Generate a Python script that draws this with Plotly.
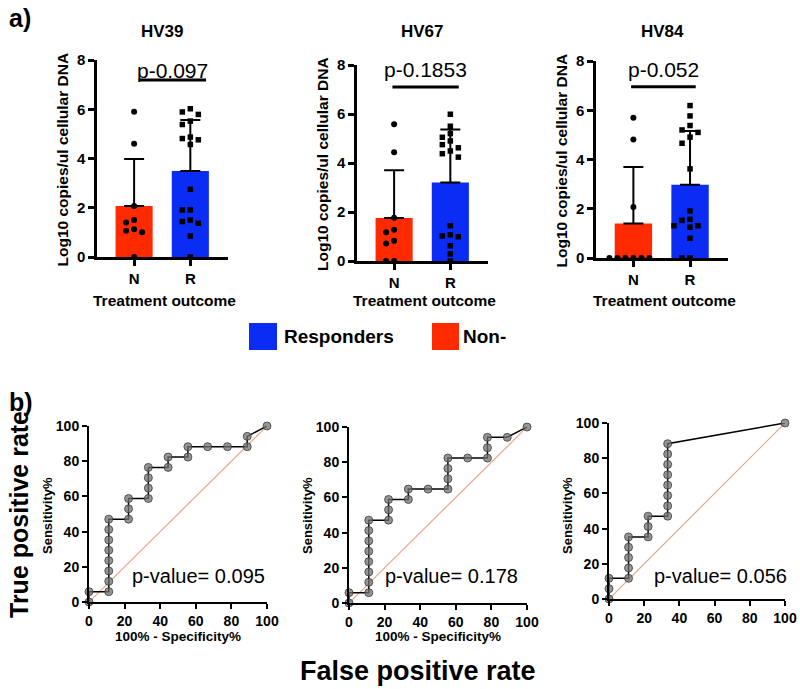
import plotly.graph_objects as go
import numpy as np

W, H = 800, 689

# ---------------- DATA ----------------
panels = ["HV39", "HV67", "HV84"]
categories = ["N", "R"]
p_texts = ["p-0.097", "p-0.1853", "p-0.052"]

hv39_non = [5.9, 4.6, 2.07, 1.5, 1.4, 1.13, 1.07, 1.0, 0.0]
hv39_resp = [6.02, 5.89, 5.79, 5.52, 5.38, 4.87, 4.81, 4.76, 4.57, 2.75, 1.91, 1.91, 1.5, 1.44, 1.37, 0.85, 0.0]
hv67_non = [5.58, 4.44, 1.77, 1.28, 1.17, 0.83, 0.71, 0.0, 0.0]
hv67_resp = [5.99, 5.5, 5.2, 5.05, 4.9, 4.75, 4.62, 4.49, 4.38, 4.24, 1.44, 1.07, 1.02, 0.99, 0.62, 0.29, 0.0]
hv84_non = [5.7, 4.81, 2.07, 0.0, 0.0, 0.0, 0.0, 0.0, 0.0]
hv84_resp = [6.19, 5.77, 5.38, 5.2, 5.1, 4.91, 4.66, 3.62, 1.91, 1.57, 1.53, 1.31, 1.31, 1.25, 0.8, 0.0, 0.0]

roc_p_texts = ["p-value= 0.095", "p-value= 0.178", "p-value= 0.056"]
roc1_fpr = [0, 0, 11.11, 11.11, 11.11, 11.11, 11.11, 11.11, 11.11, 11.11, 22.22, 22.22, 22.22, 33.33, 33.33, 33.33, 33.33, 44.44, 44.44, 55.56, 55.56, 66.67, 77.78, 88.89, 88.89, 100]
roc1_tpr = [0, 5.88, 5.88, 11.76, 17.65, 23.53, 29.41, 35.29, 41.18, 47.06, 47.06, 52.94, 58.82, 58.82, 64.71, 70.59, 76.47, 76.47, 82.35, 82.35, 88.24, 88.24, 88.24, 88.24, 94.12, 100]
roc2_fpr = [0, 0, 11.11, 11.11, 11.11, 11.11, 11.11, 11.11, 11.11, 11.11, 22.22, 22.22, 22.22, 33.33, 33.33, 44.44, 55.56, 55.56, 55.56, 55.56, 66.67, 77.78, 77.78, 77.78, 88.89, 100]
roc2_tpr = [0, 5.88, 5.88, 11.76, 17.65, 23.53, 29.41, 35.29, 41.18, 47.06, 47.06, 52.94, 58.82, 58.82, 64.71, 64.71, 64.71, 70.59, 76.47, 82.35, 82.35, 82.35, 88.24, 94.12, 94.12, 100]
roc3_fpr = [0, 0, 0, 11.11, 11.11, 11.11, 11.11, 11.11, 22.22, 22.22, 22.22, 33.33, 33.33, 33.33, 33.33, 33.33, 33.33, 33.33, 33.33, 100]
roc3_tpr = [0, 5.88, 11.76, 11.76, 17.65, 23.53, 29.41, 35.29, 35.29, 41.18, 47.06, 47.06, 52.94, 58.82, 64.71, 70.59, 76.47, 82.35, 88.24, 100]
diag = [0, 100]

groups = [(hv39_non, hv39_resp), (hv67_non, hv67_resp), (hv84_non, hv84_resp)]
rocs = [(roc1_fpr, roc1_tpr), (roc2_fpr, roc2_tpr), (roc3_fpr, roc3_tpr)]

# ---------------- STYLE ----------------
RED = "#ff2a00"
BLUE = "#0a2cf5"
FONT = "Liberation Sans"

def px(x):
    return x / W

def py(y):
    return 1 - y / H

# pixel boxes on the page (left, right, top, bottom)
bar_boxes = [(97, 228, 60, 257), (357, 488, 65, 261), (596, 728, 61, 258)]
roc_boxes = [(89, 267, 426, 602), (349, 527, 427, 603), (609, 785, 423, 599)]
roc_ptext_left = [130, 383, 652]
XR = [-0.66, 1.67]
sig_line = [(0.08, 1.28, 7.19), (-0.03, 1.15, 7.1), (-0.04, 1.1, 6.95)]
sig_text_y = [7.56, 7.8, 7.64]


def swarm(vals, center, ppx, ppy, diam=7.0, step=8.0):
    order = np.argsort(vals)[::-1]
    placed = []
    xs = [0.0] * len(vals)
    for i in order:
        y = vals[i] * ppy
        for k in range(0, 30):
            off = 0 if k == 0 else ((k + 1) // 2) * step * (-1 if k % 2 else 1)
            ok = all((off - ox) ** 2 + (y - oy) ** 2 >= diam ** 2 for ox, oy in placed)
            if ok:
                placed.append((off, y))
                xs[i] = center + off / ppx
                break
    return xs


def ann(xp, yp, text, size, xanchor="center", angle=0):
    return dict(xref="paper", yref="paper", x=px(xp), y=py(yp), text=text, showarrow=False,
                xanchor=xanchor, yanchor="middle", textangle=angle,
                font=dict(family=FONT, size=size, color="black"))


fig = go.Figure()
layout_axes = {}
shapes = []
annotations = []

tickfont = dict(family=FONT, size=15, color="black", weight="bold")
common = dict(showline=True, linecolor="black", ticks="outside", tickcolor="black",
              showgrid=False, zeroline=False, automargin=False, fixedrange=True)

for i, (name, (non, resp)) in enumerate(zip(panels, groups)):
    n = i + 1
    xa = "x" if n == 1 else f"x{n}"
    ya = "y" if n == 1 else f"y{n}"
    l, r, t, b = bar_boxes[i]
    ppx = (r - l) / (XR[1] - XR[0])
    ppy = (b - t) / 8.0
    for j, (vals, col, sym) in enumerate([(non, RED, "circle"), (resp, BLUE, "square")]):
        arr = np.array(vals)
        mean = arr.mean()
        sd = arr.std(ddof=1)
        fig.add_trace(go.Bar(
            x=[j], y=[mean], width=0.66, marker=dict(color=col, line=dict(width=0)),
            error_y=dict(type="data", symmetric=False, array=[sd], arrayminus=[0],
                         color="black", thickness=2, width=10),
            xaxis=xa, yaxis=ya, showlegend=False))
        fig.add_trace(go.Scatter(
            x=swarm(vals, j, ppx, ppy), y=vals, mode="markers",
            marker=dict(symbol=sym, size=6 if sym == "circle" else 5.5, color="black"),
            cliponaxis=False, xaxis=xa, yaxis=ya, showlegend=False))
    layout_axes["xaxis" if n == 1 else f"xaxis{n}"] = dict(
        domain=[px(l), px(r)], anchor=ya, range=XR, tickvals=[0, 1], ticktext=categories,
        linewidth=2.5, ticklen=6, tickwidth=2.5, tickfont=tickfont, **common)
    layout_axes["yaxis" if n == 1 else f"yaxis{n}"] = dict(
        domain=[py(b), py(t)], anchor=xa, range=[0, 8], tickvals=[0, 2, 4, 6, 8],
        linewidth=2.5, ticklen=6, tickwidth=2.5, tickfont=tickfont, **common)
    x0, x1, yl = sig_line[i]
    shapes.append(dict(type="line", xref=xa, yref=ya, x0=x0, x1=x1, y0=yl, y1=yl,
                       line=dict(color="black", width=3)))
    annotations.append(dict(xref=xa, yref=ya, x=(x0 + x1) / 2, y=sig_text_y[i], text=p_texts[i],
                            showarrow=False, xanchor="center", yanchor="middle",
                            font=dict(family=FONT, size=21, color="black")))
    annotations.append(ann((l + r) / 2, 31, f"<b>{name}</b>", 17))
    annotations.append(ann(l - 35, (t + b) / 2 + 1, "<b>Log10 copies/ul cellular DNA</b>", 15.5, angle=-90))
    annotations.append(ann((l + r) / 2 + 2, 300, "<b>Treatment outcome</b>", 15.5))

for i, (fpr, tpr) in enumerate(rocs):
    n = i + 4
    xa, ya = f"x{n}", f"y{n}"
    l, r, t, b = roc_boxes[i]
    fig.add_trace(go.Scatter(x=diag, y=diag, mode="lines", line=dict(color="#eda58e", width=1.2),
                             xaxis=xa, yaxis=ya, showlegend=False, cliponaxis=False))
    fig.add_trace(go.Scatter(x=fpr, y=tpr, mode="lines+markers",
                             line=dict(color="black", width=1.5),
                             marker=dict(size=8, color="rgba(115,115,115,0.75)",
                                         line=dict(color="rgba(60,60,60,0.8)", width=1)),
                             xaxis=xa, yaxis=ya, showlegend=False, cliponaxis=False))
    rtf = dict(family=FONT, size=14, color="black", weight="bold")
    layout_axes[f"xaxis{n}"] = dict(
        domain=[px(l), px(r)], anchor=ya, range=[0, 100], tickvals=[0, 20, 40, 60, 80, 100],
        linewidth=2, ticklen=5, tickwidth=2, tickfont=rtf, **common)
    layout_axes[f"yaxis{n}"] = dict(
        domain=[py(b), py(t)], anchor=xa, range=[0, 100], tickvals=[0, 20, 40, 60, 80, 100],
        linewidth=2, ticklen=5, tickwidth=2, tickfont=rtf, **common)
    annotations.append(ann(roc_ptext_left[i], 576, roc_p_texts[i], 20, xanchor="left"))
    annotations.append(ann(l - 42, 516, "<b>Sensitivity%</b>", 13, angle=-90))
    if i < 2:
        annotations.append(ann((l + r) / 2, 636, "<b>100% - Specificity%</b>", 13.5))

# legend squares and labels
shapes.append(dict(type="rect", xref="paper", yref="paper", x0=px(249), x1=px(277), y0=py(350), y1=py(323),
                   fillcolor=BLUE, line=dict(width=0)))
shapes.append(dict(type="rect", xref="paper", yref="paper", x0=px(432), x1=px(459), y0=py(350), y1=py(323),
                   fillcolor=RED, line=dict(width=0)))
annotations.append(ann(282, 336, "<b>Responders</b>", 19, xanchor="left"))
annotations.append(ann(461, 336, "<b>Non-</b>", 19, xanchor="left"))

# panel letters and big titles
annotations.append(ann(7, 18, "<b>a)</b>", 25, xanchor="left"))
annotations.append(ann(7, 402, "<b>b)</b>", 25, xanchor="left"))
annotations.append(ann(19, 515, "<b>True positive rate</b>", 25, angle=-90))
annotations.append(ann(418, 671, "<b>False positive rate</b>", 27))

fig.update_layout(width=W, height=H, margin=dict(l=0, r=0, t=0, b=0, pad=0, autoexpand=False),
                  plot_bgcolor="white", paper_bgcolor="white", showlegend=False,
                  barmode="overlay", shapes=shapes, annotations=annotations, **layout_axes)

fig.write_html("out.html", config={"displayModeBar": False},
               post_script="document.body.style.margin='0';document.body.style.overflow='hidden';")
